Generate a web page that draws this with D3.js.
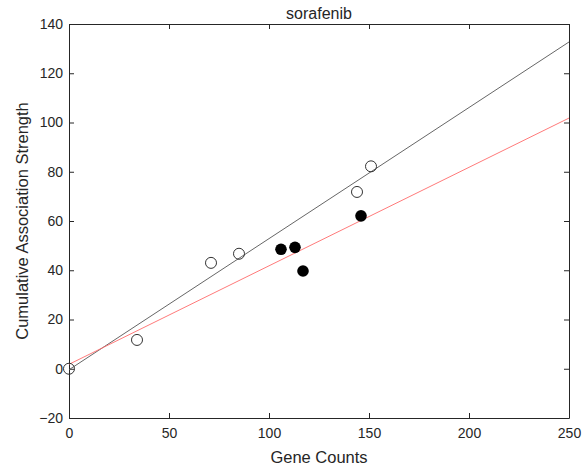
<!DOCTYPE html>
<html lang="en">
<head>
    <meta charset="UTF-8">
    <title>sorafenib</title>
    <script type="text/javascript" src="https://cdn.jsdelivr.net/npm/d3@7"></script>
    <style type="text/css">
        body { margin: 0; background: #fff; }
        text { font-family: "Liberation Sans", Arial, sans-serif; fill: #262626; }
    </style>
</head>
<body>
    <script type="text/javascript">
        //Width and height
        var w = 586;
        var h = 473;
        var margin = { top: 24, right: 17, bottom: 55, left: 69 };

        // open circles
        var openX = [0, 34, 71, 85, 144, 151];
        var openY = [0, 11.7, 43, 46.7, 71.8, 82.2];

        // filled circles
        var filledX = [106, 113, 117, 146];
        var filledY = [48.5, 49.3, 39.7, 62.1];

        // fit lines (end points)
        var fitX = [0, 250];
        var blackFitY = [-0.4, 132.7];
        var redFitY = [1.8, 101.8];

        var xTicks = [0, 50, 100, 150, 200, 250];
        var yTicks = [-20, 0, 20, 40, 60, 80, 100, 120, 140];

        var xScale = d3.scaleLinear()
            .domain([0, 250])
            .range([margin.left, w - margin.right]);

        var yScale = d3.scaleLinear()
            .domain([-20, 140])
            .range([h - margin.bottom, margin.top]);

        //Create SVG element
        var svg = d3.select("body")
            .append("svg")
            .attr("width", w)
            .attr("height", h);

        var axisColor = "#262626";

        //axes, ticks pointing inward
        svg.append("g")
            .attr("transform", "translate(0," + (h - margin.bottom) + ")")
            .call(d3.axisBottom(xScale).tickValues(xTicks).tickSizeInner(-5).tickSizeOuter(0).tickPadding(10));
        svg.append("g")
            .attr("transform", "translate(0," + margin.top + ")")
            .call(d3.axisTop(xScale).tickValues(xTicks).tickSizeInner(-5).tickSizeOuter(0).tickFormat(""));
        svg.append("g")
            .attr("transform", "translate(" + margin.left + ",0)")
            .call(d3.axisLeft(yScale).tickValues(yTicks).tickSizeInner(-5).tickSizeOuter(0).tickPadding(6));
        svg.append("g")
            .attr("transform", "translate(" + (w - margin.right) + ",0)")
            .call(d3.axisRight(yScale).tickValues(yTicks).tickSizeInner(-5).tickSizeOuter(0).tickFormat(""));

        svg.selectAll(".domain").attr("stroke", axisColor).attr("stroke-width", 1);
        svg.selectAll(".tick line").attr("stroke", axisColor);
        svg.selectAll(".tick text")
            .attr("font-size", "14px")
            .attr("font-family", "Liberation Sans, Arial, sans-serif")
            .attr("fill", axisColor);

        //fit lines
        var line = d3.line()
            .x(function(d) { return xScale(d[0]); })
            .y(function(d) { return yScale(d[1]); });

        svg.append("path")
            .datum(d3.zip(fitX, blackFitY))
            .attr("d", line)
            .attr("fill", "none")
            .attr("stroke", "#555")
            .attr("stroke-width", 0.9);

        svg.append("path")
            .datum(d3.zip(fitX, redFitY))
            .attr("d", line)
            .attr("fill", "none")
            .attr("stroke", "#ff6b6b")
            .attr("stroke-width", 0.9);

        //open circles
        svg.selectAll("circle.open")
            .data(d3.zip(openX, openY))
            .enter()
            .append("circle")
            .attr("class", "open")
            .attr("cx", function(d) { return xScale(d[0]); })
            .attr("cy", function(d) { return yScale(d[1]); })
            .attr("r", 5.5)
            .attr("fill", "none")
            .attr("stroke", "#333")
            .attr("stroke-width", 1);

        //filled circles
        svg.selectAll("circle.filled")
            .data(d3.zip(filledX, filledY))
            .enter()
            .append("circle")
            .attr("class", "filled")
            .attr("cx", function(d) { return xScale(d[0]); })
            .attr("cy", function(d) { return yScale(d[1]); })
            .attr("r", 5.8)
            .attr("fill", "#000");

        //title and labels
        svg.append("text")
            .text("sorafenib")
            .attr("x", (margin.left + w - margin.right) / 2)
            .attr("y", 19)
            .attr("text-anchor", "middle")
            .attr("font-size", "16px");

        svg.append("text")
            .text("Gene Counts")
            .attr("x", (margin.left + w - margin.right) / 2)
            .attr("y", 463)
            .attr("text-anchor", "middle")
            .attr("font-size", "16.5px");

        svg.append("text")
            .text("Cumulative Association Strength")
            .attr("transform", "translate(28," + ((margin.top + h - margin.bottom) / 2) + ") rotate(-90)")
            .attr("text-anchor", "middle")
            .attr("font-size", "16.5px");
    </script>
</body>
</html>
